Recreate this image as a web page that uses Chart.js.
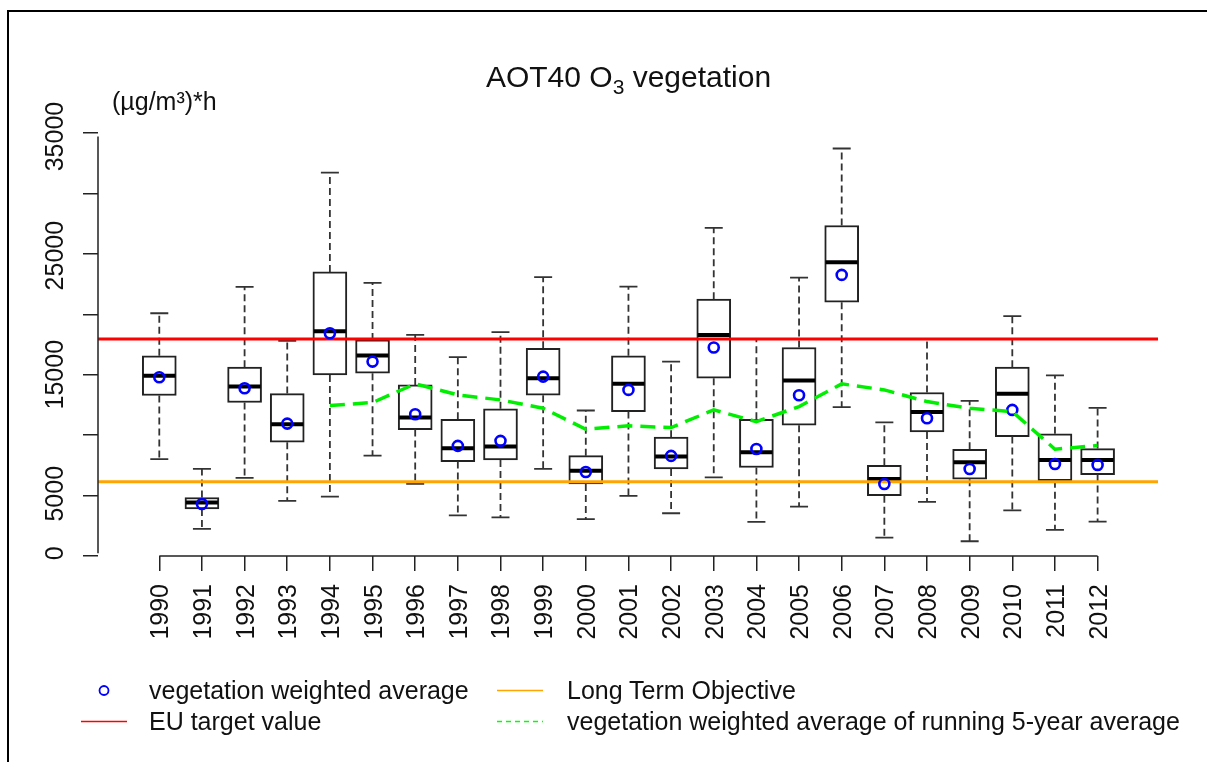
<!DOCTYPE html>
<html>
<head>
<meta charset="utf-8">
<script src="https://cdn.jsdelivr.net/npm/chart.js@4/dist/chart.umd.min.js"></script>
<style>
  html, body { margin: 0; padding: 0; background: #fff; overflow: hidden; }
  body { width: 1207px; height: 762px; position: relative; font-family: "Liberation Sans", Arial, sans-serif; color: #111; }
  #frame { position: absolute; left: 7px; top: 10px; width: 1400px; height: 900px; border: 2px solid #000; }
  #chart { position: absolute; left: 0; top: 0; }
  .txt { position: absolute; white-space: nowrap; font-size: 25px; line-height: 25px; }
  #title { position: absolute; top: 62px; left: 0; width: 1257px; text-align: center; font-size: 30px; line-height: 30px; white-space: nowrap; }
  #title span { font-size: 21px; position: relative; top: 7px; }
  #legendMarks { position: absolute; left: 0; top: 0; }
</style>
</head>
<body>
<div id="frame"></div>
<canvas id="chart" width="1207" height="762"></canvas>
<div id="title">AOT40 O<span>3</span> vegetation</div>
<div class="txt" style="left:112px; top:89px;">(µg/m³)*h</div>

<svg id="legendMarks" width="1207" height="762">
  <circle cx="104" cy="690.5" r="4.5" fill="none" stroke="#0000ff" stroke-width="1.8"/>
  <line x1="81" y1="721.5" x2="127" y2="721.5" stroke="#ff0000" stroke-width="1.6"/>
  <line x1="497" y1="690.5" x2="543" y2="690.5" stroke="#ffa500" stroke-width="1.6"/>
  <line x1="497" y1="721.5" x2="543" y2="721.5" stroke="#00ff00" stroke-width="1.6" stroke-dasharray="5 4"/>
</svg>
<div class="txt" style="left:149px; top:678px;">vegetation weighted average</div>
<div class="txt" style="left:149px; top:709px;">EU target value</div>
<div class="txt" style="left:567px; top:678px;">Long Term Objective</div>
<div class="txt" style="left:567px; top:709px;">vegetation weighted average of running 5-year average</div>

<script>
// AOT40 per year, (µg/m³)*h
const years = [1990, 1991, 1992, 1993, 1994, 1995, 1996, 1997, 1998, 1999, 2000,
  2001, 2002, 2003, 2004, 2005, 2006, 2007, 2008, 2009, 2010, 2011, 2012];

const whiskerHigh = [20160, 7080, 22370, 17840, 31980, 22710, 18340, 16470, 18570, 23190, 11990,
  22400, 16100, 27330, 17980, 23160, 34000, 11000, 17980, 12800, 19910, 14950, 12210];
const boxHigh = [16580, 4680, 15630, 13410, 23630, 17920, 14140, 11260, 12130, 17220, 8200,
  16580, 9750, 21340, 11260, 17280, 27530, 7390, 13500, 8740, 15630, 10030, 8790];
const medians = [14900, 4260, 14000, 10840, 18650, 16610, 11400, 8820, 8960, 14700, 6940,
  14230, 8120, 18340, 8480, 14510, 24450, 6240, 11870, 7640, 13390, 7840, 7840];
const boxLow = [13250, 3720, 12660, 9330, 14980, 15120, 10390, 7700, 7840, 13270, 5820,
  11900, 7080, 14700, 7200, 10750, 21090, 4840, 10190, 6220, 9800, 6100, 6610];
const whiskerLow = [7900, 2040, 6330, 4400, 4760, 8200, 5820, 3190, 3020, 7080, 2860,
  4820, 3360, 6380, 2630, 3920, 12270, 1320, 4310, 1010, 3610, 1960, 2660];

const weightedAvg = [14790, 4140, 13860, 10890, 18480, 16100, 11680, 9020, 9440, 14840, 6830,
  13720, 8180, 17280, 8760, 13270, 23380, 5820, 11340, 7080, 12040, 7500, 7420];
const running5 = [null, null, null, null, 12410, 12660, 14230, 13300, 12880, 12180, 10420,
  10700, 10560, 12040, 11060, 12320, 14230, 13720, 12740, 12180, 11900, 8740, 9050];

const euTarget = 18000;
const longTermObjective = 6000;

const yLabelValues = [0, 5000, 15000, 25000, 35000];

const X_MIN = 1988.563, X_MAX = 2013.416;
const FONT = '25px "Liberation Sans", Arial, sans-serif';

// whiskers, caps and medians on top of the box bars
const boxExtras = {
  id: 'boxExtras',
  afterDatasetDraw(chart, args) {
    if (args.index !== 4) return;
    const ctx = chart.ctx, x = chart.scales.x, y = chart.scales.y;
    ctx.save();
    years.forEach((yr, i) => {
      const px = x.getPixelForValue(yr);
      ctx.strokeStyle = '#333';
      ctx.lineWidth = 1.8;
      ctx.setLineDash([7, 4]);
      ctx.beginPath();
      ctx.moveTo(px, y.getPixelForValue(boxHigh[i]));
      ctx.lineTo(px, y.getPixelForValue(whiskerHigh[i]));
      ctx.moveTo(px, y.getPixelForValue(boxLow[i]));
      ctx.lineTo(px, y.getPixelForValue(whiskerLow[i]));
      ctx.stroke();
      ctx.setLineDash([]);
      ctx.lineWidth = 1.8;
      ctx.beginPath();
      [whiskerHigh[i], whiskerLow[i]].forEach(v => {
        const py = y.getPixelForValue(v);
        ctx.moveTo(px - 9, py);
        ctx.lineTo(px + 9, py);
      });
      ctx.stroke();
      ctx.strokeStyle = '#000';
      ctx.lineWidth = 4;
      ctx.beginPath();
      const pm = y.getPixelForValue(medians[i]);
      ctx.moveTo(px - 16, pm);
      ctx.lineTo(px + 16, pm);
      ctx.stroke();
    });
    ctx.restore();
  }
};

// R-style axis lines spanning only the tick range, plus rotated labels
const rAxes = {
  id: 'rAxes',
  afterDraw(chart) {
    const ctx = chart.ctx, x = chart.scales.x, y = chart.scales.y, area = chart.chartArea;
    ctx.save();
    ctx.strokeStyle = '#222';
    ctx.lineWidth = 1.5;
    ctx.beginPath();
    ctx.moveTo(area.left, y.getPixelForValue(0));
    ctx.lineTo(area.left, y.getPixelForValue(35000));
    ctx.moveTo(x.getPixelForValue(years[0]), area.bottom);
    ctx.lineTo(x.getPixelForValue(years[years.length - 1]), area.bottom);
    ctx.stroke();

    ctx.fillStyle = '#111';
    ctx.font = FONT;
    ctx.textBaseline = 'alphabetic';
    yLabelValues.forEach(v => {
      ctx.save();
      ctx.translate(area.left - 35, y.getPixelForValue(v));
      ctx.rotate(-Math.PI / 2);
      ctx.textAlign = 'center';
      ctx.fillText(String(v), 0, 0);
      ctx.restore();
    });
    years.forEach(yr => {
      ctx.save();
      ctx.translate(x.getPixelForValue(yr) + 9, area.bottom + 28);
      ctx.rotate(-Math.PI / 2);
      ctx.textAlign = 'right';
      ctx.fillText(String(yr), 0, 0);
      ctx.restore();
    });
    ctx.restore();
  }
};

const pts = vals => years.map((yr, i) => ({ x: yr, y: vals[i] }));

new Chart(document.getElementById('chart'), {
  type: 'bar',
  data: {
    datasets: [
      {
        type: 'line',
        label: 'vegetation weighted average of running 5-year average',
        data: pts(running5),
        borderColor: '#00ee00',
        borderWidth: 3.5,
        borderDash: [15, 8],
        pointRadius: 0,
        tension: 0,
        order: 0
      },
      {
        type: 'scatter',
        label: 'vegetation weighted average',
        data: pts(weightedAvg),
        pointStyle: 'circle',
        pointRadius: 5,
        pointBorderWidth: 2.6,
        borderColor: '#0000ff',
        backgroundColor: 'rgba(0,0,0,0)',
        order: 1
      },
      {
        type: 'line',
        label: 'EU target value',
        data: [{ x: X_MIN, y: euTarget }, { x: X_MAX, y: euTarget }],
        borderColor: '#ff0000',
        borderWidth: 3,
        pointRadius: 0,
        order: 2
      },
      {
        type: 'line',
        label: 'Long Term Objective',
        data: [{ x: X_MIN, y: longTermObjective }, { x: X_MAX, y: longTermObjective }],
        borderColor: '#ffa500',
        borderWidth: 3,
        pointRadius: 0,
        order: 2
      },
      {
        type: 'bar',
        label: 'boxes',
        data: years.map((yr, i) => ({ x: yr, y: [boxLow[i], boxHigh[i]] })),
        backgroundColor: '#ffffff',
        borderColor: '#222',
        borderWidth: 2,
        borderSkipped: false,
        barThickness: 34,
        order: 3
      }
    ]
  },
  options: {
    responsive: false,
    animation: false,
    devicePixelRatio: 1,
    layout: { padding: { left: 0, right: 49, top: 133, bottom: 0 } },
    plugins: { legend: { display: false }, tooltip: { enabled: false } },
    scales: {
      x: {
        type: 'linear',
        offset: false,
        min: X_MIN,
        max: X_MAX,
        afterBuildTicks: s => { s.ticks = s.ticks.filter(t => t.value >= years[0] && t.value <= years[years.length - 1]); },
        afterFit: s => { s.height = 206; },
        ticks: { stepSize: 1, includeBounds: false, display: false },
        grid: { offset: false, drawOnChartArea: false, drawTicks: true, tickLength: 15, color: '#222', lineWidth: 1.5 },
        border: { display: false }
      },
      y: {
        min: -230,
        max: 35300,
        afterFit: s => { s.width = 98; },
        ticks: { stepSize: 5000, includeBounds: false, display: false },
        grid: { drawOnChartArea: false, drawTicks: true, tickLength: 15, color: '#222', lineWidth: 1.5 },
        border: { display: false }
      }
    }
  },
  plugins: [boxExtras, rAxes]
});
</script>
</body>
</html>
